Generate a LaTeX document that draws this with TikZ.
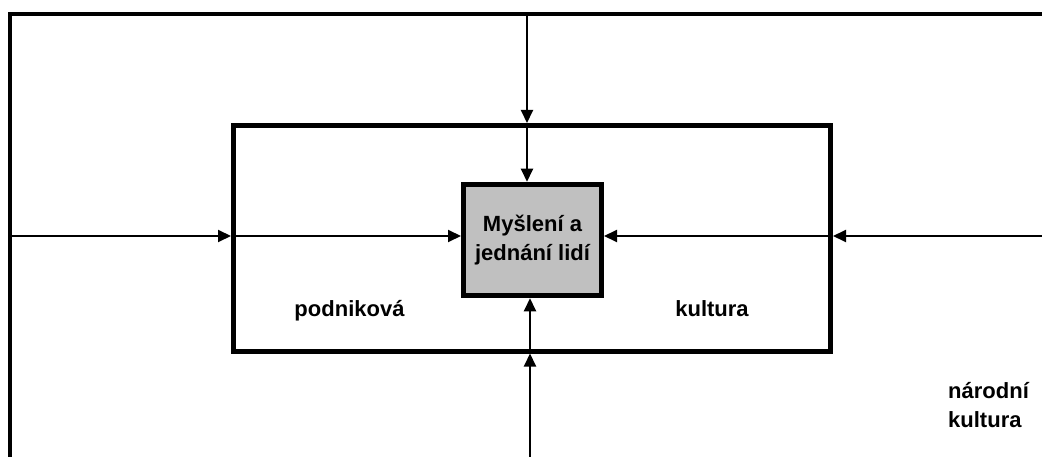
\documentclass[tikz,border=0pt]{standalone}
\usepackage{fontspec}
\setmainfont{Liberation Sans}
\usetikzlibrary{arrows.meta}
\definecolor{boxgray}{RGB}{192,192,192}
\begin{document}
\begin{tikzpicture}[x=1pt,y=-1pt,
  labeltext/.style={font=\bfseries\fontsize{22pt}{29pt}\selectfont,inner sep=0pt},
  outerframe/.style={draw=black,line width=4pt},
  firmbox/.style={draw=black,line width=5pt,minimum width=597pt,minimum height=225.5pt,inner sep=0pt},
  corebox/.style={draw=black,line width=5pt,fill=boxgray,minimum width=138pt,minimum height=111.5pt,
    inner sep=0pt,align=center,font=\bfseries\fontsize{22pt}{29pt}\selectfont},
  flow/.style={draw=black,line width=2pt,-{Triangle[length=13pt,width=12pt]}}
]
\useasboundingbox (0,0) rectangle (1042,457);

% national culture frame
\coordinate (frameBL) at (10,460);
\coordinate (frameTL) at (10,14);
\coordinate (frameTR) at (1046,14);
\draw[outerframe] (frameBL) -- (frameTL) -- (frameTR);

% corporate culture box and the core box
\node[firmbox] (firm) at (532,238.25) {};
\node[corebox] (core) at (532.5,240) {Myšlení a\\jednání lidí};

% influences from all four sides
\coordinate (srcTop) at (527,14);
\coordinate (srcLeft) at (10,236);
\coordinate (srcRight) at (1042,236);
\coordinate (srcBottom) at (530,457);

\draw[flow] (srcTop) -- (srcTop |- firm.north);
\draw[flow] (srcTop |- firm.north) -- (srcTop |- core.north);
\draw[flow] (srcLeft) -- (srcLeft -| firm.west);
\draw[flow] (srcLeft -| firm.west) -- (srcLeft -| core.west);
\draw[flow] (srcRight) -- (srcRight -| firm.east);
\draw[flow] (srcRight -| firm.east) -- (srcRight -| core.east);
\draw[flow] (srcBottom) -- (srcBottom |- firm.south);
\draw[flow] (srcBottom |- firm.south) -- (srcBottom |- core.south);

% labels
\node[labeltext,anchor=base] (podnik) at (349.5,316.7) {podniková};
\node[labeltext,anchor=base] (kult) at (712,316.7) {kultura};
\node[labeltext,anchor=base west,align=left] (narod) at (948,427) {národní\\kultura};
\end{tikzpicture}
\end{document}
